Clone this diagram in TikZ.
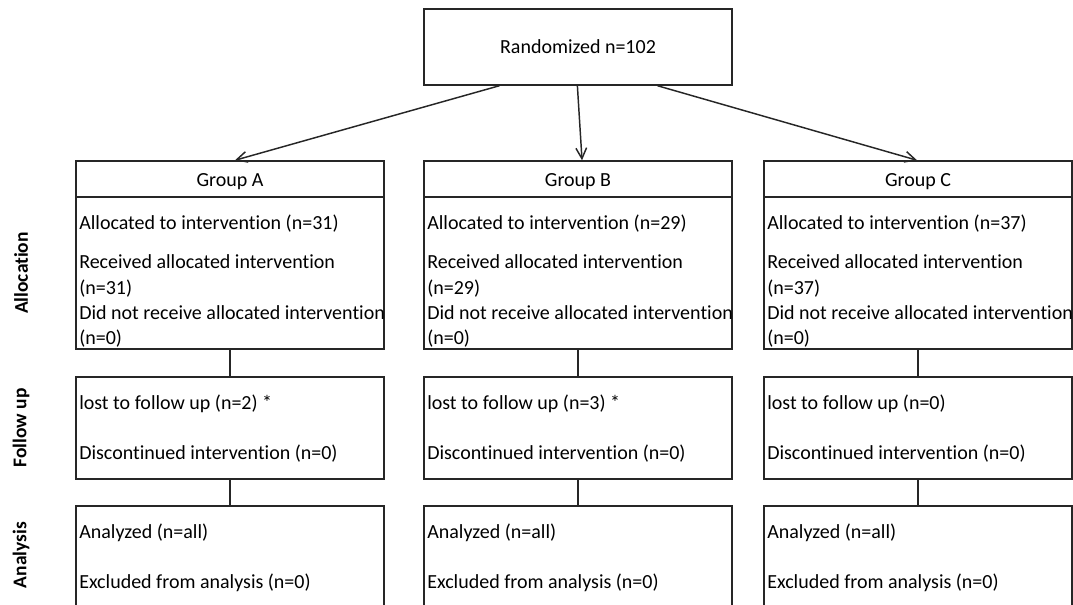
\documentclass[tikz,border=0pt]{standalone}
\usepackage{fontspec}
\setmainfont{Carlito}[Ligatures={NoCommon,NoContextual}]
\usetikzlibrary{arrows.meta,fit,calc}
\begin{document}
\begin{tikzpicture}[x=0.75pt,y=-0.75pt,
  box/.style={draw=black!85,line width=1.1pt,inner sep=0pt},
  txt/.style={anchor=base west,inner sep=0pt,font=\fontsize{15}{18}\selectfont},
  ctxt/.style={anchor=base,inner sep=0pt,font=\fontsize{15}{18}\selectfont},
  side/.style={rotate=90,inner sep=0pt,font=\bfseries\fontsize{14.6}{17}\selectfont},
  link/.style={draw=black!85,line width=1.1pt},
  arr/.style={draw=black!85,line width=1.1pt,-{Straight Barb[length=8pt,width=8pt]}}]
\useasboundingbox (0,0) rectangle (1073,604);
\clip (0,0) rectangle (1073,604);

% top box
\node[box,fit={(424,9) (732,85)}] (rand) {};
\node[ctxt] (randt) at (578,53) {Randomized n=102};

% group boxes
\foreach \g/\xl/\xr in {A/76/384,B/424/732,C/764/1072}{
  \node[box,fit={(\xl,161) (\xr,197)}] (h\g) {};
  \node[box,fit={(\xl,197) (\xr,349)}] (al\g) {};
  \node[box,fit={(\xl,377) (\xr,479)}] (fu\g) {};
  \node[box,fit={(\xl,506) (\xr,640)}] (an\g) {};
  \node[ctxt] (ht\g) at ({(\xl+\xr)/2},186) {Group \g};
  \draw[link] (al\g.south) -- (fu\g.north);
  \draw[link] (fu\g.south) -- (an\g.north);
}

% allocation texts
\foreach \g/\xl/\xr/\n in {A/76/384/31,B/424/732/29,C/764/1072/37}{
  \begin{scope}
    \clip (\xl,197) rectangle (\xr,349);
    \node[txt] (a1\g) at (\xl+3,229) {Allocated to intervention (n=\n)};
    \node[txt] (a2\g) at (\xl+3,268) {Received allocated intervention};
    \node[txt] (a3\g) at (\xl+3,294) {(n=\n)};
    \node[txt] (a4\g) at (\xl+3,319) {Did not receive allocated intervention};
    \node[txt] (a5\g) at (\xl+3,344) {(n=0)};
  \end{scope}
}

% follow up texts
\node[txt] (f1A) at (79,409) {lost to follow up (n=2) *};
\node[txt] (f1B) at (427,409) {lost to follow up (n=3) *};
\node[txt] (f1C) at (767,409) {lost to follow up (n=0)};
\foreach \g/\xl in {A/76,B/424,C/764}{
  \node[txt] (f2\g) at (\xl+3,459) {Discontinued intervention (n=0)};
  \node[txt] (n1\g) at (\xl+3,538) {Analyzed (n=all)};
  \node[txt] (n2\g) at (\xl+3,588) {Excluded from analysis (n=0)};
}

% side labels
\node[side] (sAl) at (21,273) {Allocation};
\node[side] (sFu) at (21,428) {Follow up};
\node[side] (sAn) at (21,555) {Analysis};

% arrows
\draw[arr] ($(rand.south west)!0.246!(rand.south east)$) -- ($(hA.north west)!0.516!(hA.north east)$);
\draw[arr] ($(rand.south west)!0.498!(rand.south east)$) -- ($(hB.north west)!0.513!(hB.north east)$);
\draw[arr] ($(rand.south west)!0.757!(rand.south east)$) -- ($(hC.north west)!0.497!(hC.north east)$);
\end{tikzpicture}
\end{document}
